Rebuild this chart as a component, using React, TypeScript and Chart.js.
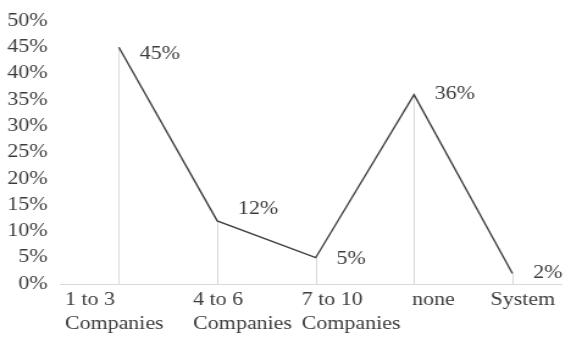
import React, { useEffect, useRef } from "react";
import { Chart, registerables } from "chart.js";

Chart.register(...registerables);

// ---- data ----
const categories: (string | string[])[] = [
  ["1 to 3", "Companies"],
  ["4 to 6", "Companies"],
  ["7 to 10", "Companies"],
  "none",
  "System",
];
const values: number[] = [45, 12, 5, 36, 2];
const yMax = 50;
const yStep = 5;

// ---- layout (reference image is horizontally stretched) ----
const DISPLAY_W = 582;
const DISPLAY_H = 338;
const STRETCH = 1.22;
const INTERNAL_W = Math.round(DISPLAY_W / STRETCH);
// horizontal nudge of each category label block (display px), as in the reference
const xLabelShift = [-54, -24, -14, -2, -22];
// vertical nudge of each value label (px)
const valueLabelDy = [7, -12, 2, 0, 0];

const FONT_FAMILY = '"Liberation Serif", "Times New Roman", Times, serif';
const TEXT_COLOR = "#3c3c3c";
const LINE_COLOR = "#404040";
const GRID_COLOR = "#d9d9d9";

const dropAndLabels = {
  id: "dropAndLabels",
  beforeDraw(chart: any) {
    const xs = chart.scales.x;
    const items = xs.getLabelItems();
    items.forEach((item: any, i: number) => {
      const t = item.options.translation;
      item.options.translation = [t[0] + (xLabelShift[i] ?? 0) / STRETCH, t[1]];
      item.options.textAlign = "left";
    });
  },
  beforeDatasetsDraw(chart: any) {
    const ctx = chart.ctx;
    const meta = chart.getDatasetMeta(0);
    const y0 = chart.scales.y.getPixelForValue(0);
    ctx.save();
    ctx.strokeStyle = GRID_COLOR;
    ctx.lineWidth = 1;
    meta.data.forEach((pt: any) => {
      const x = Math.round(pt.x) + 0.5;
      ctx.beginPath();
      ctx.moveTo(x, pt.y);
      ctx.lineTo(x, y0);
      ctx.stroke();
    });
    ctx.restore();
  },
  afterDatasetsDraw(chart: any) {
    const ctx = chart.ctx;
    const meta = chart.getDatasetMeta(0);
    const data = chart.data.datasets[0].data as any[];
    ctx.save();
    ctx.font = `18px ${FONT_FAMILY}`;
    ctx.fillStyle = TEXT_COLOR;
    ctx.textAlign = "left";
    ctx.textBaseline = "middle";
    meta.data.forEach((pt: any, i: number) => {
      ctx.fillText(`${data[i].y}%`, pt.x + 17, pt.y + (valueLabelDy[i] ?? 0));
    });
    ctx.restore();
  },
};

export default function App() {
  const canvasRef = useRef<HTMLCanvasElement | null>(null);

  useEffect(() => {
    document.body.style.margin = "0";
    const canvas = canvasRef.current;
    if (!canvas) return;
    const chart = new Chart(canvas, {
      type: "line",
      data: {
        datasets: [
          {
            data: values.map((v, i) => ({ x: i, y: v })),
            borderColor: LINE_COLOR,
            borderWidth: 1.4,
            pointRadius: 0,
            tension: 0,
            fill: false,
          },
        ],
      },
      options: {
        responsive: false,
        maintainAspectRatio: false,
        animation: false,
        devicePixelRatio: 1,
        layout: { padding: { top: 21, left: 0, right: 0, bottom: 0 } },
        plugins: {
          legend: { display: false },
          tooltip: { enabled: false },
        },
        scales: {
          x: {
            type: "linear",
            min: -0.6,
            max: 4.5,
            afterBuildTicks: (s: any) => {
              s.ticks = categories.map((_, i) => ({ value: i }));
            },
            afterFit: (s: any) => {
              s.height = 54;
            },
            grid: { display: false, drawTicks: false },
            border: { display: true, color: GRID_COLOR, width: 1 },
            ticks: {
              autoSkip: false,
              maxRotation: 0,
              minRotation: 0,
              align: "start",
              padding: 4,
              color: TEXT_COLOR,
              font: { family: FONT_FAMILY, size: 18, lineHeight: 1.33 },
              callback: (v: any) => categories[v as number] ?? "",
            },
          },
          y: {
            min: 0,
            max: yMax,
            afterFit: (s: any) => {
              s.width = 49;
            },
            grid: { display: false, drawTicks: false },
            border: { display: false },
            ticks: {
              stepSize: yStep,
              padding: 10,
              color: TEXT_COLOR,
              font: { family: FONT_FAMILY, size: 18 },
              callback: (v: any) => `${v}%`,
            },
          },
        },
      },
      plugins: [dropAndLabels],
    } as any);
    return () => chart.destroy();
  }, []);

  return (
    <div style={{ width: DISPLAY_W, height: DISPLAY_H, background: "#fff" }}>
      <canvas
        ref={canvasRef}
        width={INTERNAL_W}
        height={DISPLAY_H}
        style={{ width: `${DISPLAY_W}px`, height: `${DISPLAY_H}px`, display: "block" }}
      />
    </div>
  );
}
